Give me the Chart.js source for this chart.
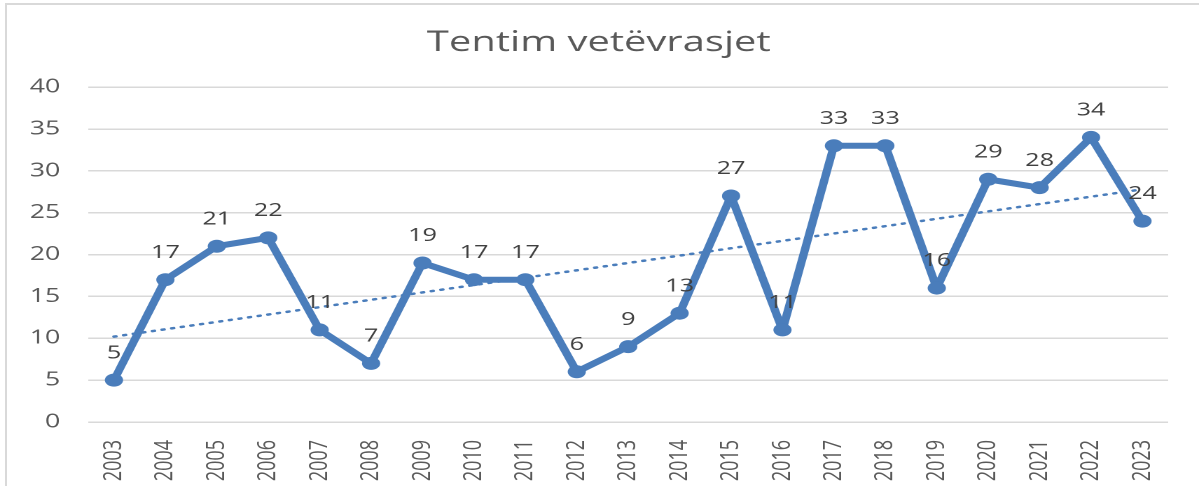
<!DOCTYPE html>
<html>
<head>
<meta charset="utf-8">
<script src="https://cdn.jsdelivr.net/npm/chart.js"></script>
<style>
  html, body { margin: 0; padding: 0; background: #fff; overflow: hidden; }
  .frame {
    position: absolute; left: 5px; top: 3px; width: 1300px; height: 600px;
    border-left: 2px solid #d9d9d9; border-top: 2px solid #d9d9d9;
  }
  #tentimChart {
    position: absolute; left: 0; top: 0;
    width: 856px; height: 486px;
    transform: scaleX(1.4007); transform-origin: 0 0;
  }
</style>
</head>
<body>
<div class="frame"></div>
<canvas id="tentimChart" width="856" height="486"></canvas>
<script>
const vitet = ['2003', '2004', '2005', '2006', '2007', '2008', '2009', '2010', '2011', '2012', '2013',
  '2014', '2015', '2016', '2017', '2018', '2019', '2020', '2021', '2022', '2023'];
const tentimet = [5, 17, 21, 22, 11, 7, 19, 17, 17, 6, 9, 13, 27, 11, 33, 33, 16, 29, 28, 34, 24];
// trendi linear: vetem vlera ne fillim dhe ne fund (lexuar nga grafiku)
const trendFillim = 10.2;
const trendFund = 27.8;
const yTicks = [0, 5, 10, 15, 20, 25, 30, 35, 40];

const blu = '#4a7dbb';
const gri = '#595959';

const trendi = vitet.map((v, i) => i === 0 ? trendFillim : (i === vitet.length - 1 ? trendFund : null));

// etiketat me vlera mbi pikat
const etiketat = {
  id: 'etiketat',
  afterDatasetsDraw(chart) {
    const ctx = chart.ctx;
    const meta = chart.getDatasetMeta(0);
    ctx.save();
    ctx.font = '18px "Open Sans"';
    ctx.fillStyle = '#404040';
    ctx.textAlign = 'center';
    ctx.textBaseline = 'middle';
    meta.data.forEach((pt, i) => {
      ctx.fillText(String(tentimet[i]), pt.x, pt.y - 27);
    });
    ctx.restore();
  }
};

let tentimChart;

document.addEventListener('DOMContentLoaded', () => {
  const ctx = document.getElementById('tentimChart').getContext('2d');
  tentimChart = new Chart(ctx, {
    type: 'line',
    data: {
      labels: vitet,
      datasets: [{
        label: 'Tentim vetëvrasjet',
        data: tentimet,
        borderColor: blu,
        backgroundColor: blu,
        borderWidth: 6,
        borderJoinStyle: 'round',
        borderCapStyle: 'round',
        pointRadius: 6.5,
        pointBackgroundColor: blu,
        pointBorderWidth: 0,
        tension: 0,
        order: 1
      }, {
        label: 'Trendi',
        data: trendi,
        spanGaps: true,
        borderColor: blu,
        borderWidth: 2.5,
        borderDash: [1.5, 5.5],
        borderCapStyle: 'round',
        pointRadius: 0,
        order: 2
      }]
    },
    options: {
      responsive: false,
      animation: false,
      devicePixelRatio: 2,
      layout: { padding: { left: 21, right: 22, top: 0, bottom: 0 } },
      plugins: {
        legend: { display: false },
        tooltip: { enabled: false },
        title: {
          display: true,
          text: 'Tentim vetëvrasjet',
          color: gri,
          font: { family: 'Open Sans', size: 28.5, weight: 'normal' },
          padding: { top: 26, bottom: 27 }
        }
      },
      scales: {
        x: {
          offset: true,
          grid: { display: false },
          border: { display: false },
          ticks: {
            color: gri,
            font: { family: 'Open Sans', size: 18 },
            minRotation: 90,
            maxRotation: 90,
            autoSkip: false,
            padding: 10
          },
          afterFit: (s) => { s.height = 64; }
        },
        y: {
          min: 0,
          max: 40,
          afterBuildTicks: (s) => { s.ticks = yTicks.map(v => ({ value: v })); },
          grid: { color: '#d9d9d9', lineWidth: 1.5, drawTicks: false },
          border: { display: false },
          ticks: {
            color: gri,
            font: { family: 'Open Sans', size: 19 },
            padding: 20
          },
          afterFit: (s) => { s.width = 42; }
        }
      }
    },
    plugins: [etiketat]
  });
});
</script>
</body>
</html>
